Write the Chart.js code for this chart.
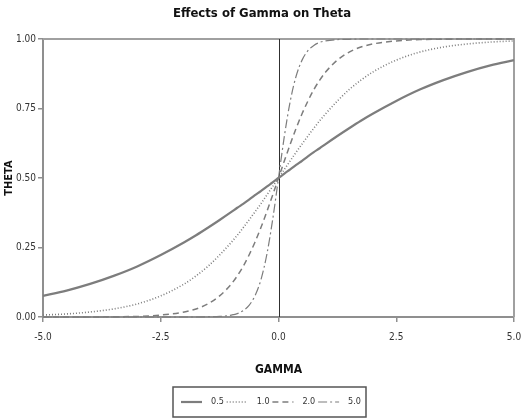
<!DOCTYPE html>
<html>
<head>
<meta charset="utf-8">
<script src="https://cdn.jsdelivr.net/npm/chart.js@4.4.1/dist/chart.umd.min.js"></script>
<style>
  html, body { margin: 0; padding: 0; background: #ffffff; }
  #wrap { width: 521px; height: 418px; }
</style>
</head>
<body>
<div id="wrap"><canvas id="c" width="521" height="418"></canvas></div>
<script>
// Gamma values shared by every curve
const gammaValues = [
  -5, -4.5, -4, -3.5, -3, -2.5, -2, -1.75, -1.5, -1.25, -1,
  -0.875, -0.75, -0.625, -0.5, -0.375, -0.25, -0.125, 0,
  0.125, 0.25, 0.375, 0.5, 0.625, 0.75, 0.875, 1,
  1.25, 1.5, 1.75, 2, 2.5, 3, 3.5, 4, 4.5, 5
];

// Theta for each gamma, one array per slope setting
const theta05 = [
  0.076, 0.095, 0.119, 0.148, 0.182, 0.223, 0.269, 0.294, 0.321, 0.349, 0.378,
  0.393, 0.407, 0.422, 0.438, 0.453, 0.469, 0.484, 0.500,
  0.516, 0.531, 0.547, 0.562, 0.578, 0.593, 0.607, 0.622,
  0.651, 0.679, 0.706, 0.731, 0.777, 0.818, 0.852, 0.881, 0.905, 0.924
];
const theta10 = [
  0.007, 0.011, 0.018, 0.029, 0.047, 0.076, 0.119, 0.148, 0.182, 0.223, 0.269,
  0.294, 0.321, 0.349, 0.378, 0.407, 0.438, 0.469, 0.500,
  0.531, 0.562, 0.593, 0.622, 0.651, 0.679, 0.706, 0.731,
  0.777, 0.818, 0.852, 0.881, 0.924, 0.953, 0.971, 0.982, 0.989, 0.993
];
const theta20 = [
  0, 0, 0, 0.001, 0.002, 0.007, 0.018, 0.029, 0.047, 0.076, 0.119,
  0.148, 0.182, 0.223, 0.269, 0.321, 0.378, 0.438, 0.500,
  0.562, 0.622, 0.679, 0.731, 0.777, 0.818, 0.852, 0.881,
  0.924, 0.953, 0.971, 0.982, 0.993, 0.998, 0.999, 1, 1, 1
];
const theta50 = [
  0, 0, 0, 0, 0, 0, 0, 0, 0.001, 0.002, 0.007,
  0.012, 0.023, 0.042, 0.076, 0.133, 0.223, 0.349, 0.500,
  0.651, 0.777, 0.867, 0.924, 0.958, 0.977, 0.988, 0.993,
  0.998, 0.999, 1, 1, 1, 1, 1, 1, 1, 1
];

const seriesLabels = ['0.5', '1.0', '2.0', '5.0'];
const xTickValues = [-5, -2.5, 0, 2.5, 5];
const yTickValues = [0, 0.25, 0.5, 0.75, 1];

const NARROW = "'Liberation Sans Narrow', 'Arial Narrow', 'DejaVu Sans Condensed', 'Liberation Sans', sans-serif";
const AXIS_GREY = '#8f8f8f';
const LINE_GREY = '#7d7d7d';

function toPoints(values) {
  return gammaValues.map((g, i) => ({ x: g, y: values[i] }));
}

// Reference lines: top line at theta = 1, right border, and the gamma = 0 line
const framePlugin = {
  id: 'frame',
  beforeDatasetsDraw(chart) {
    const { ctx, chartArea: { left, right, top, bottom }, scales: { x, y } } = chart;
    ctx.save();
    ctx.strokeStyle = '#a0a0a0';
    ctx.lineWidth = 2;
    const yTop = y.getPixelForValue(1);
    ctx.beginPath();
    ctx.moveTo(left, yTop);
    ctx.lineTo(right, yTop);
    ctx.moveTo(right, top - 1);
    ctx.lineTo(right, bottom);
    ctx.stroke();
    const x0 = Math.round(x.getPixelForValue(0)) + 0.5;
    ctx.strokeStyle = '#303030';
    ctx.lineWidth = 1;
    ctx.beginPath();
    ctx.moveTo(x0, top);
    ctx.lineTo(x0, bottom);
    ctx.stroke();
    ctx.restore();
  }
};

// Boxed legend below the axis title
const boxLegendPlugin = {
  id: 'boxLegend',
  afterDraw(chart, args, opts) {
    const { ctx } = chart;
    const bx = opts.left, by = opts.top, bw = opts.width, bh = opts.height;
    ctx.save();
    ctx.strokeStyle = '#555555';
    ctx.lineWidth = 1.5;
    ctx.strokeRect(bx, by, bw, bh);
    const cy = by + bh / 2;
    ctx.font = '9px ' + NARROW;
    ctx.fillStyle = '#333333';
    ctx.textBaseline = 'middle';
    ctx.textAlign = 'left';
    chart.data.datasets.forEach((ds, i) => {
      const x0 = bx + opts.firstX + i * opts.pitch;
      ctx.strokeStyle = ds.borderColor;
      ctx.lineWidth = ds.borderWidth;
      ctx.setLineDash(ds.borderDash || []);
      ctx.beginPath();
      ctx.moveTo(x0, cy);
      ctx.lineTo(x0 + opts.lineLen, cy);
      ctx.stroke();
      ctx.setLineDash([]);
      ctx.fillText(ds.label, x0 + opts.lineLen + opts.gap, cy);
    });
    ctx.restore();
  }
};

const lineStyles = [
  { borderDash: [], borderWidth: 2.2 },
  { borderDash: [1, 2], borderWidth: 1.6 },
  { borderDash: [6, 4], borderWidth: 1.5 },
  { borderDash: [9, 3, 2, 3], borderWidth: 1.2 }
];
const seriesValues = [theta05, theta10, theta20, theta50];

const datasets = seriesValues.map((vals, i) => ({
  label: seriesLabels[i],
  data: toPoints(vals),
  borderColor: LINE_GREY,
  backgroundColor: LINE_GREY,
  borderWidth: lineStyles[i].borderWidth,
  borderDash: lineStyles[i].borderDash,
  pointRadius: 0,
  fill: false,
  cubicInterpolationMode: 'monotone',
  clip: 3
}));

new Chart(document.getElementById('c'), {
  type: 'line',
  data: { datasets },
  plugins: [framePlugin, boxLegendPlugin],
  options: {
    responsive: false,
    animation: false,
    devicePixelRatio: 1,
    layout: { padding: { left: 3, right: 0, top: 0, bottom: 32 } },
    plugins: {
      legend: { display: false },
      tooltip: { enabled: false },
      title: {
        display: true,
        text: 'Effects of Gamma on Theta',
        color: '#111111',
        font: { family: NARROW, size: 13, weight: 'bold', lineHeight: 1.2 },
        padding: { top: 6, bottom: 17.4 }
      },
      boxLegend: {
        left: 173, top: 387, width: 193, height: 30,
        firstX: 8, pitch: 45.7, lineLen: 21, gap: 9
      }
    },
    scales: {
      x: {
        type: 'linear',
        min: -5,
        max: 5,
        afterBuildTicks(scale) { scale.ticks = xTickValues.map(v => ({ value: v })); },
        afterFit(scale) { scale.height = 69; scale.paddingLeft = 0; scale.paddingRight = 7; },
        grid: { drawOnChartArea: false, drawTicks: true, tickLength: 5, color: AXIS_GREY, lineWidth: 1.5 },
        border: { display: true, color: AXIS_GREY, width: 2 },
        ticks: {
          color: '#333333',
          padding: 9,
          maxRotation: 0,
          font: { family: NARROW, size: 10 },
          callback: v => Number(v).toFixed(1)
        },
        title: {
          display: true,
          text: 'GAMMA',
          color: '#111111',
          font: { family: NARROW, size: 12, weight: 'bold', lineHeight: 1.2 },
          padding: { top: 0, bottom: 9 }
        }
      },
      y: {
        type: 'linear',
        min: 0,
        max: 1,
        afterBuildTicks(scale) { scale.ticks = yTickValues.map(v => ({ value: v })); },
        afterFit(scale) { scale.width = 40; },
        grid: { drawOnChartArea: false, drawTicks: true, tickLength: 5, color: AXIS_GREY, lineWidth: 1.5 },
        border: { display: true, color: AXIS_GREY, width: 2 },
        ticks: {
          color: '#333333',
          padding: 2,
          font: { family: NARROW, size: 10 },
          callback: v => Number(v).toFixed(2)
        },
        title: {
          display: true,
          text: 'THETA',
          color: '#111111',
          font: { family: NARROW, size: 11, weight: 'bold', lineHeight: 1.2 },
          padding: { top: 0, bottom: 0 }
        }
      }
    }
  }
});
</script>
</body>
</html>
